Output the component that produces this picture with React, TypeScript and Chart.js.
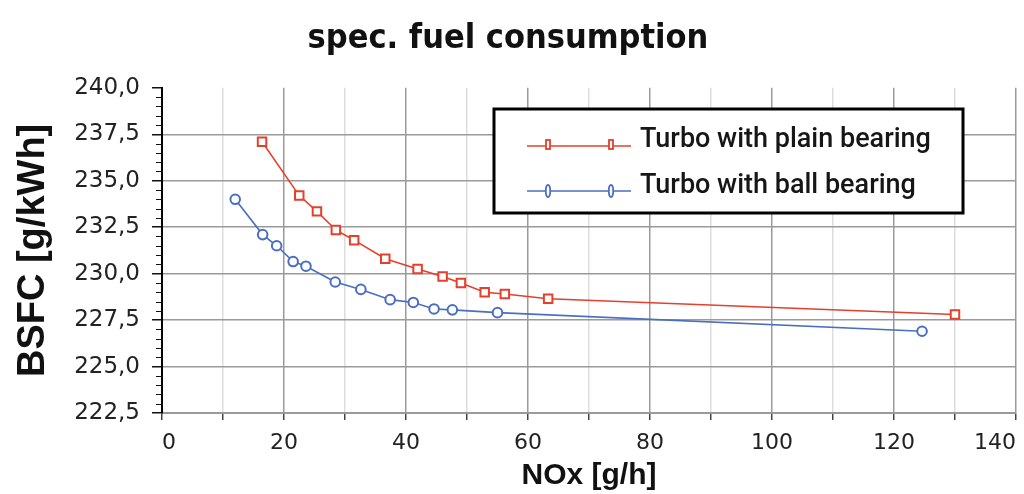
import React, { useEffect, useRef } from 'react';
import { Chart, registerables } from 'chart.js';

Chart.register(...registerables);

// ---- text ----
const TITLE = 'spec. fuel consumption';
const X_TITLE = 'NOx [g/h]';
const Y_TITLE = 'BSFC [g/kWh]';
const SERIES_LABELS = ['Turbo with plain bearing', 'Turbo with ball bearing'];

// ---- data ----
const plainNox = [16.4, 22.5, 25.4, 28.5, 31.5, 36.6, 41.9, 46.0, 49.0, 52.9, 56.2, 63.3, 130.0];
const plainBsfc = [237.1, 234.2, 233.35, 232.35, 231.8, 230.8, 230.25, 229.85, 229.5, 229.0, 228.9, 228.65, 227.8];

const ballNox = [12.0, 16.5, 18.8, 21.5, 23.6, 28.4, 32.6, 37.4, 41.2, 44.6, 47.6, 55.0, 124.6];
const ballBsfc = [234.0, 232.1, 231.5, 230.65, 230.4, 229.55, 229.15, 228.6, 228.45, 228.1, 228.05, 227.9, 226.9];

// ---- axes ----
const X_MIN = 0;
const X_MAX = 140;
const X_STEP = 10;
const X_LABEL_STEP = 20;
const Y_MIN = 222.5;
const Y_MAX = 240;
const Y_STEP = 2.5;
const Y_MINOR_STEP = 0.5;

const RED = '#e4402c';
const BLUE = '#4a6ec0';

const minorTicks = {
  id: 'minorTicks',
  afterDraw(chart: any) {
    const y = chart.scales.y;
    const left = chart.chartArea.left;
    const ctx = chart.ctx;
    ctx.save();
    ctx.strokeStyle = '#111';
    ctx.lineWidth = 1;
    const n = Math.round((Y_MAX - Y_MIN) / Y_MINOR_STEP);
    for (let i = 0; i <= n; i++) {
      const v = Y_MIN + i * Y_MINOR_STEP;
      if (Math.abs(v / Y_STEP - Math.round(v / Y_STEP)) < 1e-6) continue;
      const py = Math.round(y.getPixelForValue(v)) + 0.5;
      ctx.beginPath();
      ctx.moveTo(left - 6, py);
      ctx.lineTo(left + 1, py);
      ctx.stroke();
    }
    ctx.restore();
  },
};

const boxLegend = {
  id: 'boxLegend',
  afterDraw(chart: any) {
    const ctx = chart.ctx;
    ctx.save();
    const bx = 494, by = 109, bw = 469, bh = 104;
    ctx.fillStyle = '#ffffff';
    ctx.fillRect(bx, by, bw, bh);
    ctx.lineWidth = 3;
    ctx.strokeStyle = '#000';
    ctx.strokeRect(bx, by, bw, bh);
    const rows = [146, 191];
    const baselines = [147, 193];
    chart.data.datasets.forEach((ds: any, i: number) => {
      const ly = rows[i];
      ctx.strokeStyle = ds.borderColor;
      ctx.lineWidth = 1.5;
      ctx.beginPath();
      ctx.moveTo(527, ly);
      ctx.lineTo(631, ly);
      ctx.stroke();
      [548, 611].forEach((mx) => {
        ctx.fillStyle = '#fff';
        ctx.lineWidth = 1.8;
        if (i === 0) {
          ctx.fillRect(mx - 2, ly - 6, 4, 9);
          ctx.strokeRect(mx - 2, ly - 6, 4, 9);
        } else {
          ctx.beginPath();
          ctx.ellipse(mx, ly, 2.2, 6, 0, 0, Math.PI * 2);
          ctx.fill();
          ctx.stroke();
        }
      });
      ctx.fillStyle = '#161616';
      ctx.font = '500 27px Roboto, "Liberation Sans", Arial, sans-serif';
      ctx.textBaseline = 'alphabetic';
      ctx.textAlign = 'left';
      ctx.fillText(ds.label, 640, baselines[i]);
    });
    ctx.restore();
  },
};

export default function App() {
  const canvasRef = useRef<HTMLCanvasElement | null>(null);

  useEffect(() => {
    const canvas = canvasRef.current;
    if (!canvas) return;
    const chart = new Chart(canvas, {
      type: 'scatter',
      data: {
        datasets: [
          {
            label: SERIES_LABELS[0],
            data: plainNox.map((x, i) => ({ x, y: plainBsfc[i] })),
            showLine: true,
            borderColor: RED,
            backgroundColor: '#fff',
            borderWidth: 1.6,
            pointStyle: 'rect',
            pointRadius: 6,
            pointBorderWidth: 2,
            pointBackgroundColor: '#fff',
            pointBorderColor: RED,
            tension: 0,
          },
          {
            label: SERIES_LABELS[1],
            data: ballNox.map((x, i) => ({ x, y: ballBsfc[i] })),
            showLine: true,
            borderColor: BLUE,
            backgroundColor: '#fff',
            borderWidth: 1.6,
            pointStyle: 'circle',
            pointRadius: 4.8,
            pointBorderWidth: 2,
            pointBackgroundColor: '#fff',
            pointBorderColor: BLUE,
            tension: 0,
          },
        ],
      },
      options: {
        responsive: false,
        animation: false,
        layout: { padding: { left: 0, right: 8, top: 0, bottom: 0 } },
        plugins: {
          legend: { display: false },
          tooltip: { enabled: false },
          title: {
            display: true,
            text: TITLE,
            color: '#111',
            font: { family: '"DejaVu Sans Condensed", "DejaVu Sans", sans-serif', weight: 'bold', size: 34 },
            padding: { top: 19, bottom: 28 },
          },
        },
        scales: {
          x: {
            type: 'linear',
            min: X_MIN,
            max: X_MAX,
            ticks: {
              stepSize: X_STEP,
              autoSkip: false,
              maxRotation: 0,
              align: 'inner',
              padding: 10,
              color: '#222',
              font: { family: '"DejaVu Sans", sans-serif', size: 22 },
              callback: (v: any) => (Number(v) % X_LABEL_STEP === 0 ? String(v) : ''),
            },
            grid: {
              color: (c: any) => (c.tick && c.tick.value % X_LABEL_STEP === 0 ? '#9a9a9a' : '#dddddd'),
              lineWidth: 1.5,
              tickLength: 7,
              tickColor: '#444',
            },
            border: { color: '#9a9a9a', width: 2 },
            title: {
              display: true,
              text: X_TITLE,
              color: '#111',
              font: { family: '"Liberation Sans", Arial, sans-serif', weight: 'bold', size: 30 },
              padding: { top: 0, bottom: 0 },
            },
            afterFit: (s: any) => {
              s.height = 81;
              s.paddingLeft = 0;
              s.paddingRight = 0;
            },
          },
          y: {
            type: 'linear',
            min: Y_MIN,
            max: Y_MAX,
            ticks: {
              stepSize: Y_STEP,
              autoSkip: false,
              padding: 12,
              color: '#222',
              font: { family: '"DejaVu Sans", sans-serif', size: 23 },
              callback: (v: any) => Number(v).toFixed(1).replace('.', ','),
            },
            grid: {
              color: (c: any) => (c.tick && Math.abs(c.tick.value - Y_MAX) < 1e-6 ? 'rgba(0,0,0,0)' : '#9a9a9a'),
              lineWidth: 1.5,
              tickLength: 10,
              tickColor: '#111',
            },
            border: { color: '#000', width: 2 },
            title: {
              display: true,
              text: Y_TITLE,
              color: '#111',
              font: { family: '"Liberation Sans", Arial, sans-serif', weight: 'bold', size: 38 },
              padding: { top: 11, bottom: 0 },
            },
            afterFit: (s: any) => {
              s.width = 162;
            },
          },
        },
      } as any,
      plugins: [minorTicks, boxLegend],
    });
    return () => chart.destroy();
  }, []);

  return (
    <div style={{ position: 'fixed', left: 0, top: 0, width: 1024, height: 494, background: '#fff' }}>
      <canvas ref={canvasRef} width={1024} height={494} />
    </div>
  );
}
